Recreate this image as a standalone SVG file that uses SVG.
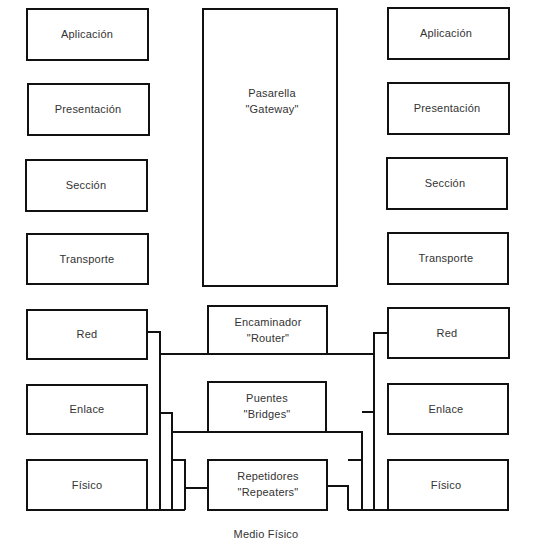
<svg xmlns="http://www.w3.org/2000/svg" width="536" height="548" viewBox="0 0 536 548">
<style>
.box{fill:#fff;stroke:#111;stroke-width:2}
.t{font-family:"Liberation Sans",Arial,sans-serif;font-size:11px;fill:#333;text-anchor:middle;letter-spacing:0.2px}
.c{fill:none;stroke:#111;stroke-width:2}
</style>
<rect width="536" height="548" fill="#fff"/>
<g id="connectors">
<path class="c" d="M147,332 H160 V510"/>
<path class="c" d="M160,354 H208"/>
<path class="c" d="M160,413 H172 V510"/>
<path class="c" d="M172,432 H208"/>
<path class="c" d="M172,460 H185 V510"/>
<path class="c" d="M185,488 H208"/>
<path class="c" d="M147,510 H185"/>
<path class="c" d="M327,354 H374"/>
<path class="c" d="M388,333 H374 V510"/>
<path class="c" d="M326,432 H362 V510"/>
<path class="c" d="M362,412 H374"/>
<path class="c" d="M327,486 H348 V510"/>
<path class="c" d="M348,460 H362"/>
<path class="c" d="M348,510 H388"/>
</g>
<g id="l-aplicacion"><rect class="box" x="27" y="9" width="121" height="51"/><text class="t" x="87" y="38">Aplicación</text></g>
<g id="l-presentacion"><rect class="box" x="28" y="84" width="121" height="51"/><text class="t" x="88" y="113">Presentación</text></g>
<g id="l-seccion"><rect class="box" x="26" y="160" width="121" height="51"/><text class="t" x="86" y="189">Sección</text></g>
<g id="l-transporte"><rect class="box" x="27" y="234" width="121" height="50"/><text class="t" x="87" y="263">Transporte</text></g>
<g id="l-red"><rect class="box" x="27" y="310" width="120" height="49"/><text class="t" x="87" y="338">Red</text></g>
<g id="l-enlace"><rect class="box" x="27" y="385" width="120" height="49"/><text class="t" x="87" y="413">Enlace</text></g>
<g id="l-fisico"><rect class="box" x="27" y="460" width="120" height="50"/><text class="t" x="87" y="489">Físico</text></g>
<g id="gateway"><rect class="box" x="203" y="9" width="134" height="277"/><text class="t" x="272" y="97">Pasarella</text><text class="t" x="272" y="113">"Gateway"</text></g>
<g id="router"><rect class="box" x="208" y="306" width="119" height="48"/><text class="t" x="268" y="326">Encaminador</text><text class="t" x="268" y="342">"Router"</text></g>
<g id="bridges"><rect class="box" x="208" y="382" width="118" height="50"/><text class="t" x="267" y="402">Puentes</text><text class="t" x="267" y="418">"Bridges"</text></g>
<g id="repeaters"><rect class="box" x="208" y="460" width="119" height="50"/><text class="t" x="268" y="480">Repetidores</text><text class="t" x="268" y="496">"Repeaters"</text></g>
<g id="r-aplicacion"><rect class="box" x="388" y="8" width="121" height="51"/><text class="t" x="446" y="37">Aplicación</text></g>
<g id="r-presentacion"><rect class="box" x="388" y="83" width="121" height="51"/><text class="t" x="447" y="112">Presentación</text></g>
<g id="r-seccion"><rect class="box" x="387" y="158" width="120" height="51"/><text class="t" x="445" y="187">Sección</text></g>
<g id="r-transporte"><rect class="box" x="388" y="233" width="120" height="51"/><text class="t" x="446" y="262">Transporte</text></g>
<g id="r-red"><rect class="box" x="388" y="308" width="121" height="50"/><text class="t" x="447" y="337">Red</text></g>
<g id="r-enlace"><rect class="box" x="388" y="384" width="120" height="50"/><text class="t" x="446" y="413">Enlace</text></g>
<g id="r-fisico"><rect class="box" x="388" y="460" width="120" height="50"/><text class="t" x="446" y="489">Físico</text></g>
<text class="t" x="266" y="538">Medio Físico</text>
</svg>
